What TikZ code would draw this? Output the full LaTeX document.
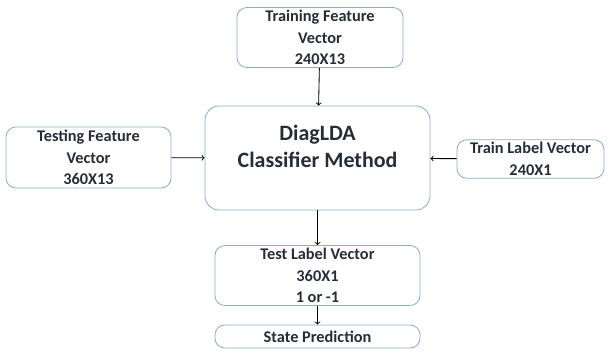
\documentclass[tikz,border=0pt]{standalone}
\usepackage{fontspec}
\setmainfont{Carlito}
\usetikzlibrary{positioning,arrows}
\definecolor{boxline}{RGB}{140,172,212}
\definecolor{boxtext}{RGB}{38,45,56}
\tikzset{post/.style={->,>=to, line width=0.6pt},
         block/.style={draw=boxline, line width=0.6pt, rounded corners=7pt, align=center, text=boxtext,
                       font=\bfseries\fontsize{11.6}{15.2}\selectfont, inner sep=2pt}
}
\begin{document}
\begin{tikzpicture}[x=0.025cm,y=-0.025cm]
      \useasboundingbox (0,0) rectangle (609,358);
      \node[block, minimum width=4.15cm, minimum height=1.475cm] (train) at (320,37.5)
            {Training Feature\\Vector\\240X13};
      \node[block, minimum width=4.125cm, minimum height=1.525cm] (test) at (88.5,157.5)
            {Testing Feature\\Vector\\360X13};
      \node[block, minimum width=5.625cm, minimum height=2.6cm, rounded corners=10pt,
            label={[yshift=0.3cm, align=center, text=boxtext,
                    font=\bfseries\fontsize{15.6}{19.2}\selectfont]center:DiagLDA\\Classifier Method}]
            (clf) at (317.5,158) {};
      \node[block, minimum width=3.675cm, minimum height=0.95cm] (trlab) at (530.5,159)
            {Train Label Vector\\240X1};
      \node[block, minimum width=5.125cm, minimum height=1.35cm] (tslab) at (317.5,275.5)
            {Test Label Vector\\360X1\\1 or -1};
      \node[block, minimum width=5.125cm, minimum height=0.575cm] (pred) at (317.5,336.5)
            {State Prediction};
      \draw[post] (train) -- (clf);
      \draw[post] (test) -- (clf);
      \draw[post] (trlab) -- (clf);
      \draw[post] (clf) -- (tslab);
      \draw[post] (tslab) -- (pred);
    \end{tikzpicture}
\end{document}
